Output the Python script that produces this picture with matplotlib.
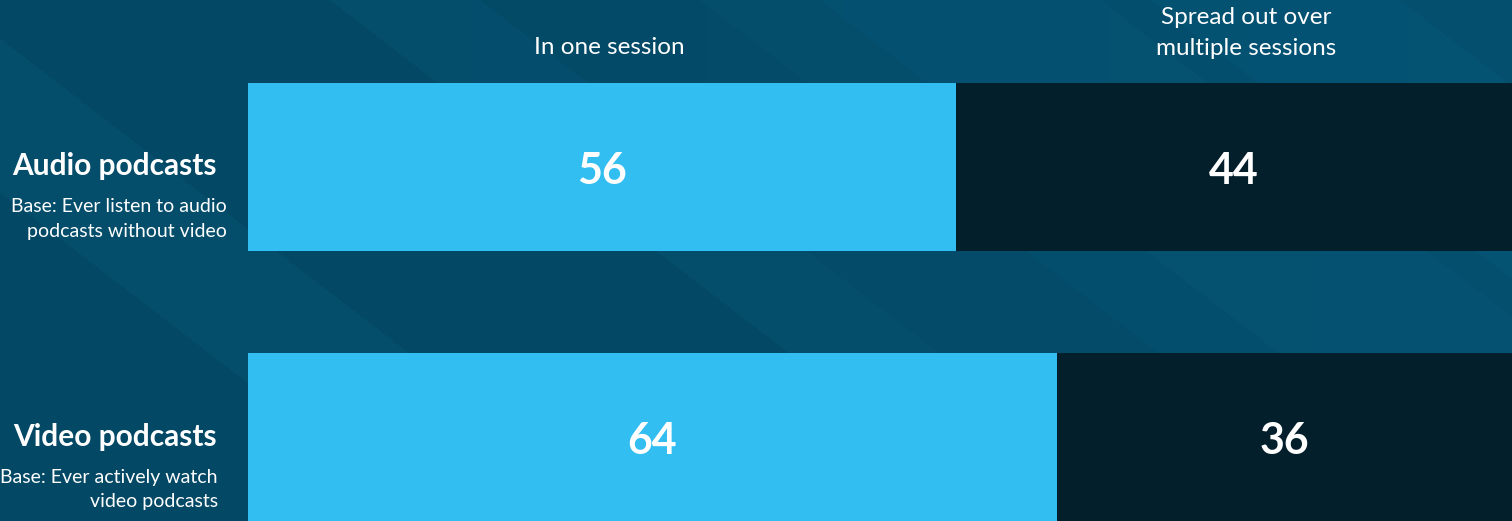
import matplotlib
matplotlib.use("Agg")
import matplotlib.pyplot as plt
import numpy as np

# survey shares (%)
groups = ["Video podcasts", "Audio podcasts"]
bases = ["Base: Ever actively watch\nvideo podcasts",
         "Base: Ever listen to audio\npodcasts without video"]
one_session = [64, 56]
multi_session = [36, 44]
headers = ["In one session", "Spread out over\nmultiple sessions"]

LIGHT = "#33BEF2"
DARK = "#041F2C"
W, H = 1512, 521

plt.rcParams['font.family'] = ['Lato', 'DejaVu Sans']


def px(x, y):
    return x / W, 1 - y / H


def background(fig):
    bg = fig.add_axes([0, 0, 1, 1])
    yy, xx = np.mgrid[0:H, 0:W]
    u = xx - 1.3 * yy
    shade = np.zeros((H, W))
    # soft diagonal bands, purely decorative
    for lo, hi, amt in [(-700, -250, -0.05), (-50, 330, -0.06),
                        (480, 700, -0.04), (820, 1100, 0.03),
                        (1150, 1400, 0.05)]:
        shade[(u > lo) & (u < hi)] += amt
    shade += 0.03 * xx / W
    base = np.array([0x04, 0x4D, 0x6B]) / 255.0
    img = np.clip(base[None, None, :] * (1 + shade[..., None]), 0, 1)
    bg.imshow(img, aspect='auto', extent=[0, 1, 0, 1], origin='upper')
    bg.set_axis_off()


def main():
    fig = plt.figure(figsize=(W / 100, H / 100), dpi=100)
    background(fig)

    ax = fig.add_axes([248 / W, 0, 1 - 248 / W, 1])
    ax.set_facecolor('none')
    pos = np.arange(len(groups))
    ax.barh(pos, one_session, height=0.62, color=LIGHT)
    ax.barh(pos, multi_session, left=one_session, height=0.62, color=DARK)
    off = 4 / 270.5
    for p, a, b in zip(pos, one_session, multi_session):
        ax.text(a / 2, p - off, str(a), ha='center', va='center',
                color='white', fontsize=31, fontweight='bold')
        ax.text(a + b / 2, p - off, str(b), ha='center', va='center',
                color='white', fontsize=31, fontweight='bold')
    ax.set_xlim(0, 100)
    ax.set_ylim(-0.31, -0.31 + H / 270.5)
    ax.set_axis_off()

    # row labels on the left
    for p, g, b in zip(pos, groups, bases):
        yc = 437 if p == 0 else 166
        bx = 218 if p == 0 else 227
        fig.text(*px(217, yc), g, ha='right', va='center', color='white',
                 fontsize=21.5, fontweight='bold')
        fig.text(*px(bx, yc + 53), b, ha='right', va='center', color='white',
                 fontsize=14, linespacing=1.5, multialignment='right')

    fig.text(*px(609, 47), headers[0], ha='center', va='center',
             color='white', fontsize=17.5)
    fig.text(*px(1246, 33), headers[1], ha='center', va='center',
             color='white', fontsize=17.5, linespacing=1.55)

    fig.savefig("out.png", dpi=100)


if __name__ == "__main__":
    main()
